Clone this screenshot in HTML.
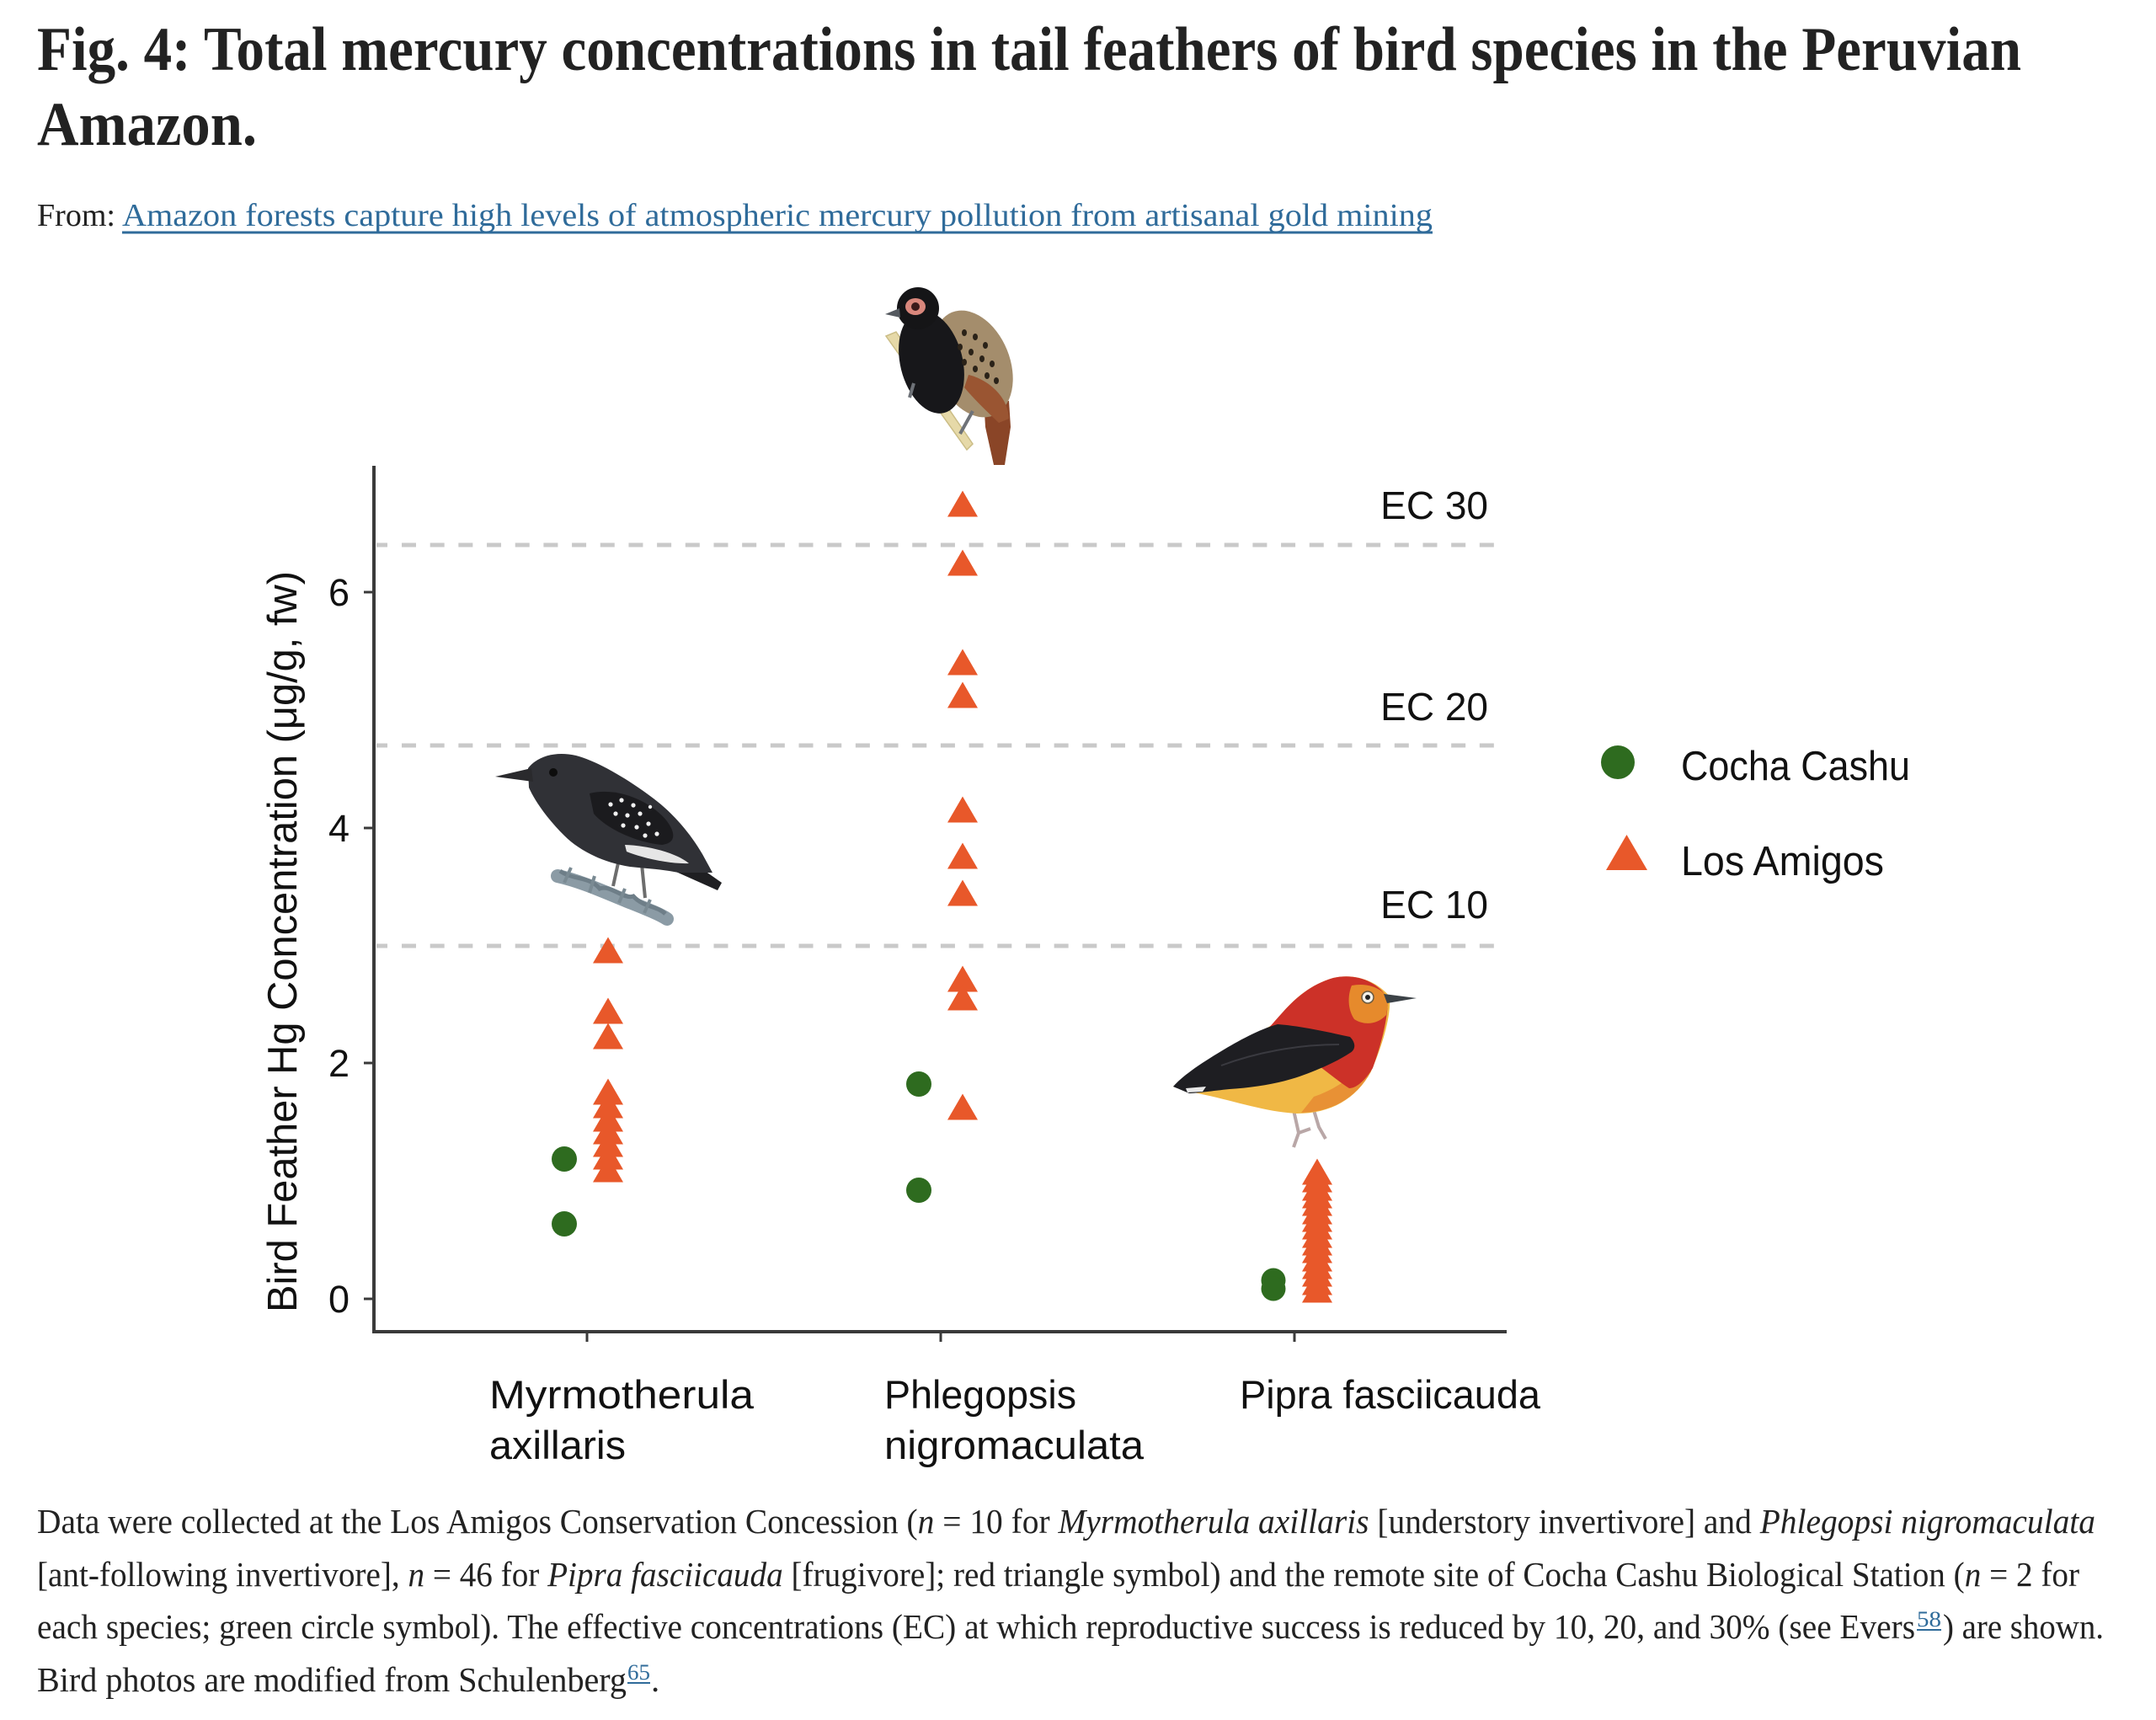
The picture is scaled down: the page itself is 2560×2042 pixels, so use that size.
<!DOCTYPE html>
<html>
<head>
<meta charset="utf-8">
<style>
  html, body { margin: 0; padding: 0; background: #ffffff; }
  svg { display: block; }
  .serif { font-family: "Liberation Serif", "DejaVu Serif", serif; }
  .sans { font-family: "Liberation Sans", "DejaVu Sans", sans-serif; }
</style>
</head>
<body>
<svg xmlns="http://www.w3.org/2000/svg" width="2560" height="2042" viewBox="0 0 2560 2042">
  <rect x="0" y="0" width="2560" height="2042" fill="#ffffff"/>

  <!-- Title -->
  <text class="serif" x="44" y="83" font-size="74" font-weight="bold" fill="#222222" textLength="2356" lengthAdjust="spacingAndGlyphs">Fig. 4: Total mercury concentrations in tail feathers of bird species in the Peruvian</text>
  <text class="serif" x="44" y="172" font-size="74" font-weight="bold" fill="#222222" textLength="261" lengthAdjust="spacingAndGlyphs">Amazon.</text>

  <!-- From line -->
  <text class="serif" x="44" y="268" font-size="38" fill="#222222" textLength="93" lengthAdjust="spacingAndGlyphs">From:</text>
  <text class="serif" x="145" y="268" font-size="38" fill="#2f6b9a" textLength="1556" lengthAdjust="spacingAndGlyphs">Amazon forests capture high levels of atmospheric mercury pollution from artisanal gold mining</text>
  <line x1="145" y1="276" x2="1701" y2="276" stroke="#2f6b9a" stroke-width="3"/>

  <defs>
    <path id="tri" d="M-18 15.5 L0 -15.5 L18 15.5 Z" fill="#e8582a"/>
  </defs>

  <!-- Dashed EC lines -->
  <g stroke="#c9c9c9" stroke-width="5">
    <line x1="447" y1="647" x2="460" y2="647"/>
    <line x1="477" y1="647" x2="1774" y2="647" stroke-dasharray="17 16.68"/>
    <line x1="447" y1="885" x2="460" y2="885"/>
    <line x1="477" y1="885" x2="1774" y2="885" stroke-dasharray="17 16.68"/>
    <line x1="447" y1="1123" x2="460" y2="1123"/>
    <line x1="477" y1="1123" x2="1774" y2="1123" stroke-dasharray="17 16.68"/>
  </g>

  <!-- EC labels -->
  <g class="sans" font-size="46" fill="#111111" text-anchor="end">
    <text x="1767" y="616">EC 30</text>
    <text x="1767" y="855">EC 20</text>
    <text x="1767" y="1090">EC 10</text>
  </g>

  <!-- Axes -->
  <g stroke="#3a3a3a" fill="none">
    <line x1="444" y1="553" x2="444" y2="1583" stroke-width="4"/>
    <line x1="442" y1="1581" x2="1789" y2="1581" stroke-width="4"/>
    <line x1="432" y1="703" x2="444" y2="703" stroke-width="3"/>
    <line x1="432" y1="983" x2="444" y2="983" stroke-width="3"/>
    <line x1="432" y1="1262" x2="444" y2="1262" stroke-width="3"/>
    <line x1="432" y1="1542" x2="444" y2="1542" stroke-width="3"/>
    <line x1="697" y1="1581" x2="697" y2="1593" stroke-width="3"/>
    <line x1="1117" y1="1581" x2="1117" y2="1593" stroke-width="3"/>
    <line x1="1537" y1="1581" x2="1537" y2="1593" stroke-width="3"/>
  </g>

  <!-- Y tick labels -->
  <g class="sans" font-size="45" fill="#111111" text-anchor="end">
    <text x="415" y="719">6</text>
    <text x="415" y="999">4</text>
    <text x="415" y="1278">2</text>
    <text x="415" y="1558">0</text>
  </g>

  <!-- Y axis label -->
  <text class="sans" transform="translate(352,1118) rotate(-90)" font-size="49" fill="#111111" text-anchor="middle" textLength="880" lengthAdjust="spacingAndGlyphs">Bird Feather Hg Concentration (μg/g, fw)</text>

  <!-- X category labels -->
  <g class="sans" font-size="47" fill="#111111">
    <text x="581" y="1672" textLength="314" lengthAdjust="spacingAndGlyphs">Myrmotherula</text>
    <text x="581" y="1732" textLength="162" lengthAdjust="spacingAndGlyphs">axillaris</text>
    <text x="1050" y="1672" textLength="228" lengthAdjust="spacingAndGlyphs">Phlegopsis</text>
    <text x="1050" y="1732" textLength="308" lengthAdjust="spacingAndGlyphs">nigromaculata</text>
    <text x="1472" y="1672" textLength="357" lengthAdjust="spacingAndGlyphs">Pipra fasciicauda</text>
  </g>

  <!-- Legend -->
  <circle cx="1921" cy="905" r="20" fill="#2e6b1f"/>
  <path d="M1907 1033 L1931.5 991 L1956 1033 Z" fill="#e8582a"/>
  <g class="sans" font-size="49" fill="#111111">
    <text x="1996" y="926" textLength="272" lengthAdjust="spacingAndGlyphs">Cocha Cashu</text>
    <text x="1996" y="1039" textLength="241" lengthAdjust="spacingAndGlyphs">Los Amigos</text>
  </g>

  <!-- ===== Bird 1: Myrmotherula axillaris ===== -->
  <g>
    <!-- branch -->
    <path d="M662 1040 C690 1046 720 1060 750 1072 C770 1080 785 1086 792 1091" stroke="#8b9ba5" stroke-width="16" fill="none" stroke-linecap="round"/>
    <path d="M665 1034 C680 1045 700 1040 712 1055 C725 1050 740 1068 752 1064 C765 1078 780 1075 790 1085" stroke="#6e7e88" stroke-width="5" fill="none"/>
    <path d="M670 1048 L678 1030 M700 1060 L706 1040 M735 1072 L742 1055 M765 1084 L772 1068" stroke="#7a8a93" stroke-width="4"/>
    <!-- legs -->
    <path d="M735 1020 L728 1052 M762 1026 L766 1066" stroke="#6d6d6d" stroke-width="4" fill="none"/>
    <!-- tail -->
    <path d="M800 1008 L857 1048 L852 1057 L796 1032 Z" fill="#1f1f22"/>
    <!-- body -->
    <path d="M627 912 C640 896 662 892 684 897 C708 903 746 925 776 948 C800 966 820 990 834 1014 L846 1036 L806 1036 C786 1032 766 1031 748 1029 C716 1024 688 1010 670 992 C650 972 635 951 628 935 Z" fill="#303136"/>
    <!-- beak -->
    <path d="M588 922 L631 912 L633 928 Z" fill="#2a2a2d"/>
    <!-- eye -->
    <circle cx="657" cy="917" r="5" fill="#0d0d0d"/>
    <!-- wing -->
    <path d="M700 942 C732 934 772 950 792 975 C803 990 802 1001 786 1003 C760 1001 722 986 705 966 Z" fill="#1b1b1e"/>
    <g fill="#f2f2f2">
      <circle cx="725" cy="955" r="2.6"/><circle cx="738" cy="950" r="2.6"/><circle cx="752" cy="956" r="2.6"/>
      <circle cx="731" cy="966" r="2.6"/><circle cx="745" cy="968" r="2.6"/><circle cx="760" cy="966" r="2.6"/>
      <circle cx="740" cy="980" r="2.6"/><circle cx="756" cy="982" r="2.6"/><circle cx="770" cy="978" r="2.6"/>
      <circle cx="766" cy="992" r="2.6"/><circle cx="780" cy="990" r="2.6"/><circle cx="772" cy="958" r="2.2"/>
    </g>
    <!-- white flank -->
    <path d="M742 1003 C770 1004 802 1012 818 1025 C796 1026 764 1019 744 1011 Z" fill="#e6e6e6"/>
  </g>

  <!-- ===== Bird 2: Pipra fasciicauda ===== -->
  <g>
    <!-- feet -->
    <path d="M1536 1318 L1542 1345 L1536 1362 M1542 1345 L1556 1340 M1560 1318 L1566 1338 L1574 1352" stroke="#b9a7a7" stroke-width="4" fill="none"/>
    <!-- body yellow -->
    <path d="M1393 1290 C1420 1270 1470 1240 1510 1217 C1525 1200 1545 1172 1583 1161 C1610 1155 1635 1165 1650 1183 C1652 1205 1642 1240 1628 1272 C1610 1305 1580 1322 1540 1322 C1500 1320 1460 1305 1417 1297 Z" fill="#f0b845"/>
    <!-- orange belly blend -->
    <path d="M1560 1302 C1590 1292 1615 1272 1628 1250 L1628 1272 C1610 1305 1580 1320 1545 1321 Z" fill="#e89135"/>
    <!-- red head/breast -->
    <path d="M1505 1222 C1525 1200 1545 1172 1583 1161 C1610 1155 1635 1165 1648 1185 C1648 1210 1640 1240 1630 1268 C1620 1284 1610 1292 1602 1292 C1580 1278 1550 1250 1505 1222 Z" fill="#cc3128"/>
    <!-- orange face -->
    <path d="M1605 1170 C1625 1166 1642 1174 1649 1186 L1646 1205 C1636 1216 1620 1218 1608 1210 C1600 1198 1600 1182 1605 1170 Z" fill="#e68a2c"/>
    <!-- black wing -->
    <path d="M1393 1290 C1405 1276 1430 1260 1450 1248 C1470 1236 1495 1222 1517 1216 C1545 1218 1580 1226 1603 1231 C1610 1238 1610 1246 1603 1250 C1585 1262 1560 1272 1543 1278 C1520 1286 1490 1291 1460 1293 C1440 1295 1420 1298 1412 1298 Z" fill="#1e1e22"/>
    <path d="M1450 1265 C1490 1250 1540 1240 1590 1240" stroke="#3a3a40" stroke-width="2" fill="none"/>
    <!-- white tail tip -->
    <path d="M1408 1292 L1432 1290 L1428 1296 L1410 1297 Z" fill="#e8e8e8"/>
    <!-- eye -->
    <circle cx="1624" cy="1184" r="7" fill="#f4f0e8" stroke="#6a5a40" stroke-width="1.5"/>
    <circle cx="1624" cy="1184" r="3" fill="#222"/>
    <!-- beak -->
    <path d="M1643 1180 L1682 1185 L1647 1191 Z" fill="#3c4247"/>
  </g>

  <!-- ===== Bird 3: Phlegopsis nigromaculata ===== -->
  <g>
    <!-- stick -->
    <path d="M1052 399 L1064 394 L1155 527 L1148 534 Z" fill="#e6d9a8" stroke="#cbbd86" stroke-width="1.5"/>
    <!-- tail -->
    <path d="M1168 472 L1198 476 L1200 507 L1193 552 L1180 552 L1170 507 Z" fill="#8a4527"/>
    <!-- back (brown spotted) -->
    <ellipse cx="1155" cy="432" rx="44" ry="66" transform="rotate(-22 1155 432)" fill="#a48d6c"/>
    <!-- rust lower wing -->
    <path d="M1150 445 C1172 450 1197 470 1198 497 L1186 502 C1170 487 1155 472 1145 460 Z" fill="#9a5532"/>
    <!-- black front body -->
    <ellipse cx="1106" cy="430" rx="37" ry="62" transform="rotate(-14 1106 430)" fill="#17171a"/>
    <!-- spots -->
    <g fill="#2a2218">
      <ellipse cx="1145" cy="395" rx="3" ry="4"/><ellipse cx="1158" cy="400" rx="3" ry="4"/><ellipse cx="1170" cy="410" rx="3" ry="4"/>
      <ellipse cx="1140" cy="412" rx="3" ry="4"/><ellipse cx="1153" cy="418" rx="3" ry="4"/><ellipse cx="1166" cy="426" rx="3" ry="4"/>
      <ellipse cx="1178" cy="432" rx="3" ry="4"/><ellipse cx="1145" cy="430" rx="3" ry="4"/><ellipse cx="1158" cy="438" rx="3" ry="4"/>
      <ellipse cx="1172" cy="446" rx="3" ry="4"/><ellipse cx="1183" cy="452" rx="3" ry="4"/>
    </g>
    <!-- head -->
    <circle cx="1090" cy="366" r="25" fill="#151517"/>
    <ellipse cx="1087" cy="364" rx="12" ry="10" fill="#d9877c"/>
    <circle cx="1087" cy="364" r="5" fill="#3a1a1a"/>
    <!-- beak -->
    <path d="M1051 373 L1068 366 L1069 377 Z" fill="#555a60"/>
    <!-- feet -->
    <path d="M1085 455 L1080 472 M1155 488 L1140 515" stroke="#6e7278" stroke-width="4" fill="none"/>
  </g>

  <!-- ===== Data points ===== -->
  <g fill="#2e6b1f">
    <circle cx="670" cy="1376" r="15"/>
    <circle cx="670" cy="1453" r="15"/>
    <circle cx="1091" cy="1287" r="15"/>
    <circle cx="1091" cy="1413" r="15"/>
    <circle cx="1512" cy="1520" r="14.5"/>
    <circle cx="1512" cy="1530" r="14.5"/>
  </g>

  <!-- Myrmotherula -->
  <use href="#tri" x="722" y="1128"/>
  <use href="#tri" x="722" y="1200"/>
  <use href="#tri" x="722" y="1230"/>
  <use href="#tri" x="722" y="1296"/>
  <use href="#tri" x="722" y="1312"/>
  <use href="#tri" x="722" y="1328"/>
  <use href="#tri" x="722" y="1343"/>
  <use href="#tri" x="722" y="1358"/>
  <use href="#tri" x="722" y="1373"/>
  <use href="#tri" x="722" y="1388"/>
  <!-- Phlegopsis -->
  <use href="#tri" x="1143" y="598"/>
  <use href="#tri" x="1143" y="668"/>
  <use href="#tri" x="1143" y="786"/>
  <use href="#tri" x="1143" y="825"/>
  <use href="#tri" x="1143" y="961"/>
  <use href="#tri" x="1143" y="1016"/>
  <use href="#tri" x="1143" y="1060"/>
  <use href="#tri" x="1143" y="1162"/>
  <use href="#tri" x="1143" y="1184"/>
  <use href="#tri" x="1143" y="1314"/>
  <!-- Pipra -->
  <use href="#tri" x="1564" y="1391"/>
  <use href="#tri" x="1564" y="1400"/>
  <use href="#tri" x="1564" y="1410"/>
  <use href="#tri" x="1564" y="1419"/>
  <use href="#tri" x="1564" y="1428"/>
  <use href="#tri" x="1564" y="1438"/>
  <use href="#tri" x="1564" y="1447"/>
  <use href="#tri" x="1564" y="1456"/>
  <use href="#tri" x="1564" y="1466"/>
  <use href="#tri" x="1564" y="1475"/>
  <use href="#tri" x="1564" y="1484"/>
  <use href="#tri" x="1564" y="1494"/>
  <use href="#tri" x="1564" y="1503"/>
  <use href="#tri" x="1564" y="1512"/>
  <use href="#tri" x="1564" y="1522"/>
  <use href="#tri" x="1564" y="1531"/>

  <!-- ===== Caption ===== -->
  <g class="serif" font-size="41" fill="#222222">
    <text x="44" y="1820" textLength="2444" lengthAdjust="spacingAndGlyphs">Data were collected at the Los Amigos Conservation Concession (<tspan font-style="italic">n</tspan> = 10 for <tspan font-style="italic">Myrmotherula axillaris</tspan> [understory invertivore] and <tspan font-style="italic">Phlegopsi nigromaculata</tspan></text>
    <text x="44" y="1883" textLength="2425" lengthAdjust="spacingAndGlyphs">[ant-following invertivore], <tspan font-style="italic">n</tspan> = 46 for <tspan font-style="italic">Pipra fasciicauda</tspan> [frugivore]; red triangle symbol) and the remote site of Cocha Cashu Biological Station (<tspan font-style="italic">n</tspan> = 2 for</text>
    <text x="44" y="1945" textLength="2230" lengthAdjust="spacingAndGlyphs">each species; green circle symbol). The effective concentrations (EC) at which reproductive success is reduced by 10, 20, and 30% (see Evers</text>
    <text x="2276" y="1931" font-size="26" fill="#2f6b9a" textLength="29" lengthAdjust="spacingAndGlyphs">58</text>
    <line x1="2276" y1="1935" x2="2305" y2="1935" stroke="#2f6b9a" stroke-width="2"/>
    <text x="2307" y="1945" textLength="191" lengthAdjust="spacingAndGlyphs">) are shown.</text>
    <text x="44" y="2008" textLength="700" lengthAdjust="spacingAndGlyphs">Bird photos are modified from Schulenberg</text>
    <text x="745" y="1994" font-size="26" fill="#2f6b9a" textLength="27" lengthAdjust="spacingAndGlyphs">65</text>
    <line x1="745" y1="1998" x2="772" y2="1998" stroke="#2f6b9a" stroke-width="2"/>
    <text x="773" y="2008">.</text>
  </g>
</svg>
</body>
</html>
